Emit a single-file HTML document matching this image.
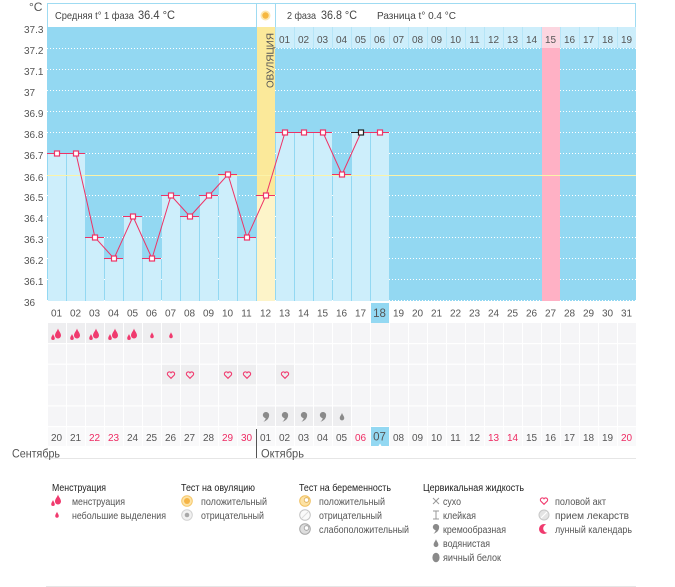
<!DOCTYPE html>
<html><head><meta charset="utf-8"><style>
html,body{margin:0;padding:0;background:#fff;}
svg{display:block;font-family:"Liberation Sans","DejaVu Sans",sans-serif;}
</style></head><body>
<svg width="675" height="587" viewBox="0 0 675 587" xmlns="http://www.w3.org/2000/svg">
<defs>
<pattern id="cells" x="47" y="0" width="19" height="10" patternUnits="userSpaceOnUse"><rect x="1" y="0" width="18" height="10" fill="#f5f5f7"/></pattern>
<pattern id="cells2" x="47" y="0" width="19" height="10" patternUnits="userSpaceOnUse"><rect x="1" y="0" width="18" height="10" fill="#f9f9fa"/></pattern>
<path id="drop" d="M0,-5.5 C0.6,-3 3,-1.2 3,1.5 A3,3 0 0 1 -3,1.5 C-3,-1.2 -0.6,-3 0,-5.5Z"/>
<path id="heart" d="M0,3.3 L-3.3,0 A1.7,1.7 0 0 1 0,-2.2 A1.7,1.7 0 0 1 3.3,0 Z"/>
<path id="comma" d="M-3.2,-1.6 A3.2,3.2 0 1 1 3.1,-0.6 C2.7,2.4 0.5,4.4 -2.6,5.2 C-0.9,3.8 -0.3,2.6 -0.4,1.6 A3.2,3.2 0 0 1 -3.2,-1.6Z"/>
</defs>

<!-- header -->
<rect x="47.5" y="3.5" width="588" height="24" fill="#fff" stroke="#9fdbf2"/>
<line x1="256.5" y1="3.5" x2="256.5" y2="27" stroke="#9fdbf2"/>
<line x1="275.5" y1="3.5" x2="275.5" y2="27" stroke="#9fdbf2"/>
<circle cx="265.5" cy="15.5" r="5" fill="#fde7b0"/>
<circle cx="265.5" cy="15.5" r="3.2" fill="#f6b740"/>
<text x="55" y="19" font-size="10.5" fill="#444" textLength="79" lengthAdjust="spacingAndGlyphs">Средняя t° 1 фаза</text>
<text x="138" y="19" font-size="12" fill="#444" textLength="37" lengthAdjust="spacingAndGlyphs">36.4 °C</text>
<text x="287" y="19" font-size="10.5" fill="#444" textLength="29" lengthAdjust="spacingAndGlyphs">2 фаза</text>
<text x="321" y="19" font-size="12" fill="#444" textLength="36" lengthAdjust="spacingAndGlyphs">36.8 °C</text>
<text x="377" y="19" font-size="10.5" fill="#444" textLength="79" lengthAdjust="spacingAndGlyphs">Разница t° 0.4 °C</text>

<!-- y axis -->
<g font-size="10" fill="#555">
<text x="29" y="11" font-size="12">°C</text>
<text x="24" y="33">37.3</text>
<text x="24" y="54">37.2</text>
<text x="24" y="75">37.1</text>
<text x="24" y="96">37</text>
<text x="24" y="117">36.9</text>
<text x="24" y="138">36.8</text>
<text x="24" y="159">36.7</text>
<text x="24" y="181">36.6</text>
<text x="24" y="201">36.5</text>
<text x="24" y="222">36.4</text>
<text x="24" y="243">36.3</text>
<text x="24" y="264">36.2</text>
<text x="24" y="285">36.1</text>
<text x="24" y="306">36</text>
</g>

<!-- chart background -->
<rect x="47" y="27" width="589" height="274" fill="#93d8f2"/>
<!-- phase 2 label row -->
<rect x="275" y="27" width="361" height="21" fill="#b6e5f7"/>
<g fill="#cdeefb">
<rect x="276" y="27" width="18" height="21"/><rect x="295" y="27" width="18" height="21"/><rect x="314" y="27" width="18" height="21"/><rect x="333" y="27" width="18" height="21"/><rect x="352" y="27" width="18" height="21"/><rect x="371" y="27" width="18" height="21"/><rect x="390" y="27" width="18" height="21"/><rect x="409" y="27" width="18" height="21"/><rect x="428" y="27" width="18" height="21"/><rect x="447" y="27" width="18" height="21"/><rect x="466" y="27" width="18" height="21"/><rect x="485" y="27" width="18" height="21"/><rect x="504" y="27" width="18" height="21"/><rect x="523" y="27" width="18" height="21"/><rect x="561" y="27" width="18" height="21"/><rect x="580" y="27" width="18" height="21"/><rect x="599" y="27" width="18" height="21"/><rect x="618" y="27" width="18" height="21"/>
</g>
<rect x="542" y="27" width="18" height="21" fill="#fcd6e0"/>

<!-- dotted grid -->
<g stroke="#ffffff" stroke-width="1" stroke-dasharray="1 2">
<line x1="47" y1="48.5" x2="636" y2="48.5"/>
<line x1="47" y1="69.5" x2="636" y2="69.5"/>
<line x1="47" y1="90.5" x2="636" y2="90.5"/>
<line x1="47" y1="111.5" x2="636" y2="111.5"/>
<line x1="47" y1="132.5" x2="636" y2="132.5"/>
<line x1="47" y1="153.5" x2="636" y2="153.5"/>
<line x1="47" y1="195.5" x2="636" y2="195.5"/>
<line x1="47" y1="216.5" x2="636" y2="216.5"/>
<line x1="47" y1="237.5" x2="636" y2="237.5"/>
<line x1="47" y1="258.5" x2="636" y2="258.5"/>
<line x1="47" y1="279.5" x2="636" y2="279.5"/>
<line x1="47" y1="300.5" x2="636" y2="300.5"/>
</g>

<!-- pink column 27 -->
<rect x="542" y="48" width="18" height="253" fill="#ffb1c5"/>

<!-- ovulation column -->
<rect x="257" y="27" width="18" height="168" fill="#fbe99a"/>
<rect x="257" y="195" width="18" height="106" fill="#fdf4c9"/>
<text transform="translate(273.5,88) rotate(-90)" font-size="10.5" fill="#555" textLength="55" lengthAdjust="spacingAndGlyphs">ОВУЛЯЦИЯ</text>

<!-- bars -->
<g fill="#cdeefb">
<rect x="48" y="153" width="18" height="148"/>
<rect x="67" y="153" width="18" height="148"/>
<rect x="86" y="237" width="18" height="64"/>
<rect x="105" y="258" width="18" height="43"/>
<rect x="124" y="216" width="18" height="85"/>
<rect x="143" y="258" width="18" height="43"/>
<rect x="162" y="195" width="18" height="106"/>
<rect x="181" y="216" width="18" height="85"/>
<rect x="200" y="195" width="18" height="106"/>
<rect x="219" y="174" width="18" height="127"/>
<rect x="238" y="237" width="18" height="64"/>
<rect x="276" y="132" width="18" height="169"/>
<rect x="295" y="132" width="18" height="169"/>
<rect x="314" y="132" width="18" height="169"/>
<rect x="333" y="174" width="18" height="127"/>
<rect x="352" y="132" width="18" height="169"/>
<rect x="371" y="132" width="18" height="169"/>
</g>

<!-- 36.6 line -->
<line x1="47" y1="175.5" x2="636" y2="175.5" stroke="#fbf3a8" stroke-width="1"/>

<!-- bar tops -->
<g stroke="#ee3366" stroke-width="1">
<line x1="47" y1="153.5" x2="85" y2="153.5"/>
<line x1="85" y1="237.5" x2="104" y2="237.5"/>
<line x1="104" y1="258.5" x2="123" y2="258.5"/>
<line x1="123" y1="216.5" x2="142" y2="216.5"/>
<line x1="142" y1="258.5" x2="161" y2="258.5"/>
<line x1="161" y1="195.5" x2="180" y2="195.5"/>
<line x1="180" y1="216.5" x2="199" y2="216.5"/>
<line x1="199" y1="195.5" x2="218" y2="195.5"/>
<line x1="218" y1="174.5" x2="237" y2="174.5"/>
<line x1="237" y1="237.5" x2="256" y2="237.5"/>
<line x1="256" y1="195.5" x2="275" y2="195.5"/>
<line x1="275" y1="132.5" x2="332" y2="132.5"/>
<line x1="332" y1="174.5" x2="351" y2="174.5"/>
<line x1="361" y1="132.5" x2="389" y2="132.5"/>
</g>
<line x1="351" y1="132.5" x2="361" y2="132.5" stroke="#222" stroke-width="1"/>

<!-- data line -->
<polyline fill="none" stroke="#ee3366" stroke-width="1" points="57,153.5 76,153.5 95,237.5 114,258.5 133,216.5 152,258.5 171,195.5 190,216.5 209,195.5 228,174.5 247,237.5 266,195.5 285,132.5 304,132.5 323,132.5 342,174.5 361,132.5 380,132.5"/>
<g fill="#fff" stroke="#ee3366" stroke-width="1.2">
<rect x="54.5" y="151" width="5" height="5"/>
<rect x="73.5" y="151" width="5" height="5"/>
<rect x="92.5" y="235" width="5" height="5"/>
<rect x="111.5" y="256" width="5" height="5"/>
<rect x="130.5" y="214" width="5" height="5"/>
<rect x="149.5" y="256" width="5" height="5"/>
<rect x="168.5" y="193" width="5" height="5"/>
<rect x="187.5" y="214" width="5" height="5"/>
<rect x="206.5" y="193" width="5" height="5"/>
<rect x="225.5" y="172" width="5" height="5"/>
<rect x="244.5" y="235" width="5" height="5"/>
<rect x="263.5" y="193" width="5" height="5"/>
<rect x="282.5" y="130" width="5" height="5"/>
<rect x="301.5" y="130" width="5" height="5"/>
<rect x="320.5" y="130" width="5" height="5"/>
<rect x="339.5" y="172" width="5" height="5"/>
<rect x="377.5" y="130" width="5" height="5"/>
</g>
<rect x="358.5" y="130" width="5" height="5" fill="#fff" stroke="#222" stroke-width="1.2"/>

<!-- phase 2 top labels -->
<g font-size="10" fill="#555" text-anchor="middle">
<text x="284.5" y="43">01</text><text x="303.5" y="43">02</text><text x="322.5" y="43">03</text><text x="341.5" y="43">04</text><text x="360.5" y="43">05</text><text x="379.5" y="43">06</text><text x="398.5" y="43">07</text><text x="417.5" y="43">08</text><text x="436.5" y="43">09</text><text x="455.5" y="43">10</text><text x="474.5" y="43">11</text><text x="493.5" y="43">12</text><text x="512.5" y="43">13</text><text x="531.5" y="43">14</text><text x="550.5" y="43">15</text><text x="569.5" y="43">16</text><text x="588.5" y="43">17</text><text x="607.5" y="43">18</text><text x="626.5" y="43">19</text>
</g>

<!-- x axis labels -->
<rect x="371" y="303" width="18" height="20" fill="#93d8f2"/>
<g font-size="10" fill="#555" text-anchor="middle">
<text x="56.5" y="316.5">01</text><text x="75.5" y="316.5">02</text><text x="94.5" y="316.5">03</text><text x="113.5" y="316.5">04</text><text x="132.5" y="316.5">05</text><text x="151.5" y="316.5">06</text><text x="170.5" y="316.5">07</text><text x="189.5" y="316.5">08</text><text x="208.5" y="316.5">09</text><text x="227.5" y="316.5">10</text><text x="246.5" y="316.5">11</text><text x="265.5" y="316.5">12</text><text x="284.5" y="316.5">13</text><text x="303.5" y="316.5">14</text><text x="322.5" y="316.5">15</text><text x="341.5" y="316.5">16</text><text x="360.5" y="316.5">17</text><text x="379.5" y="317" font-size="11.5">18</text><text x="398.5" y="316.5">19</text><text x="417.5" y="316.5">20</text><text x="436.5" y="316.5">21</text><text x="455.5" y="316.5">22</text><text x="474.5" y="316.5">23</text><text x="493.5" y="316.5">24</text><text x="512.5" y="316.5">25</text><text x="531.5" y="316.5">26</text><text x="550.5" y="316.5">27</text><text x="569.5" y="316.5">28</text><text x="588.5" y="316.5">29</text><text x="607.5" y="316.5">30</text><text x="626.5" y="316.5">31</text>
</g>

<!-- rows grid -->
<rect x="47" y="323" width="589" height="104" fill="url(#cells)"/>
<rect x="47" y="427" width="589" height="19" fill="url(#cells2)"/>
<g fill="#fff">
<rect x="47" y="343" width="589" height="1.2"/>
<rect x="47" y="363.6" width="589" height="1.2"/>
<rect x="47" y="384.4" width="589" height="1.2"/>
<rect x="47" y="405.3" width="589" height="1.2"/>
<rect x="47" y="426" width="589" height="1.2"/>
</g>
<!-- marked cells -->
<g fill="#eeeef0">
<rect x="48" y="323" width="18" height="20"/><rect x="67" y="323" width="18" height="20"/><rect x="86" y="323" width="18" height="20"/><rect x="105" y="323" width="18" height="20"/><rect x="124" y="323" width="18" height="20"/><rect x="143" y="323" width="18" height="20"/><rect x="162" y="323" width="18" height="20"/>
<rect x="162" y="364.8" width="18" height="19.6"/><rect x="181" y="364.8" width="18" height="19.6"/><rect x="219" y="364.8" width="18" height="19.6"/><rect x="238" y="364.8" width="18" height="19.6"/><rect x="276" y="364.8" width="18" height="19.6"/>
<rect x="257" y="406.5" width="18" height="19.5"/><rect x="276" y="406.5" width="18" height="19.5"/><rect x="295" y="406.5" width="18" height="19.5"/><rect x="314" y="406.5" width="18" height="19.5"/><rect x="333" y="406.5" width="18" height="19.5"/>
</g>
<!-- menstruation drops -->
<g fill="#f03a6e">
<use href="#drop" transform="translate(58,334)"/><use href="#drop" transform="translate(53,337.3) scale(0.6)"/>
<use href="#drop" transform="translate(77,334)"/><use href="#drop" transform="translate(72,337.3) scale(0.6)"/>
<use href="#drop" transform="translate(96,334)"/><use href="#drop" transform="translate(91,337.3) scale(0.6)"/>
<use href="#drop" transform="translate(115,334)"/><use href="#drop" transform="translate(110,337.3) scale(0.6)"/>
<use href="#drop" transform="translate(134,334)"/><use href="#drop" transform="translate(129,337.3) scale(0.6)"/>
<use href="#drop" transform="translate(152,335.5) scale(0.6)"/>
<use href="#drop" transform="translate(171,335.5) scale(0.6)"/>
</g>
<!-- hearts -->
<g fill="none" stroke="#f03a6e" stroke-width="1.1">
<use href="#heart" transform="translate(171,375)"/>
<use href="#heart" transform="translate(190,375)"/>
<use href="#heart" transform="translate(228,375)"/>
<use href="#heart" transform="translate(247,375)"/>
<use href="#heart" transform="translate(285,375)"/>
</g>
<!-- cervical -->
<g fill="#8a8a8a">
<use href="#comma" transform="translate(266,416.5)"/>
<use href="#comma" transform="translate(285,416.5)"/>
<use href="#comma" transform="translate(304,416.5)"/>
<use href="#comma" transform="translate(323,416.5)"/>
<use href="#drop" transform="translate(342,417) scale(0.75)"/>
</g>

<!-- date row -->
<rect x="371" y="427" width="18" height="19" fill="#93d8f2"/>
<path d="M378.5,446 L380,443.5 L381.5,446Z" fill="#fff"/>
<g font-size="10" fill="#555" text-anchor="middle">
<text x="56.5" y="441">20</text><text x="75.5" y="441">21</text><text x="94.5" y="441" fill="#ee2a62">22</text><text x="113.5" y="441" fill="#ee2a62">23</text><text x="132.5" y="441">24</text><text x="151.5" y="441">25</text><text x="170.5" y="441">26</text><text x="189.5" y="441">27</text><text x="208.5" y="441">28</text><text x="227.5" y="441" fill="#ee2a62">29</text><text x="246.5" y="441" fill="#ee2a62">30</text><text x="265.5" y="441">01</text><text x="284.5" y="441">02</text><text x="303.5" y="441">03</text><text x="322.5" y="441">04</text><text x="341.5" y="441">05</text><text x="360.5" y="441" fill="#ee2a62">06</text><text x="379.5" y="440.5" font-size="11.5">07</text><text x="398.5" y="441">08</text><text x="417.5" y="441">09</text><text x="436.5" y="441">10</text><text x="455.5" y="441">11</text><text x="474.5" y="441">12</text><text x="493.5" y="441" fill="#ee2a62">13</text><text x="512.5" y="441" fill="#ee2a62">14</text><text x="531.5" y="441">15</text><text x="550.5" y="441">16</text><text x="569.5" y="441">17</text><text x="588.5" y="441">18</text><text x="607.5" y="441">19</text><text x="626.5" y="441" fill="#ee2a62">20</text>
</g>
<line x1="45" y1="458.5" x2="636" y2="458.5" stroke="#e6e6e6"/>
<line x1="256.5" y1="429" x2="256.5" y2="458" stroke="#555"/>
<text x="12" y="457.5" font-size="11.5" fill="#555" textLength="48" lengthAdjust="spacingAndGlyphs">Сентябрь</text>
<text x="261" y="457.5" font-size="11.5" fill="#555" textLength="43" lengthAdjust="spacingAndGlyphs">Октябрь</text>

<!-- legend -->
<g font-size="10" fill="#222">
<text x="52" y="491" textLength="54" lengthAdjust="spacingAndGlyphs">Менструация</text>
<text x="181" y="491" textLength="74" lengthAdjust="spacingAndGlyphs">Тест на овуляцию</text>
<text x="299" y="491" textLength="92" lengthAdjust="spacingAndGlyphs">Тест на беременность</text>
<text x="423" y="491" textLength="101" lengthAdjust="spacingAndGlyphs">Цервикальная жидкость</text>
</g>
<g font-size="10" fill="#555" lengthAdjust="spacingAndGlyphs">
<text x="72" y="505" textLength="53" lengthAdjust="spacingAndGlyphs">менструация</text>
<text x="72" y="519" textLength="94" lengthAdjust="spacingAndGlyphs">небольшие выделения</text>
<text x="201" y="505" textLength="66" lengthAdjust="spacingAndGlyphs">положительный</text>
<text x="201" y="519" textLength="63" lengthAdjust="spacingAndGlyphs">отрицательный</text>
<text x="319" y="505" textLength="66" lengthAdjust="spacingAndGlyphs">положительный</text>
<text x="319" y="519" textLength="63" lengthAdjust="spacingAndGlyphs">отрицательный</text>
<text x="319" y="533" textLength="90" lengthAdjust="spacingAndGlyphs">слабоположительный</text>
<text x="443" y="505" textLength="18" lengthAdjust="spacingAndGlyphs">сухо</text>
<text x="443" y="519" textLength="33" lengthAdjust="spacingAndGlyphs">клейкая</text>
<text x="443" y="533" textLength="63" lengthAdjust="spacingAndGlyphs">кремообразная</text>
<text x="443" y="547" textLength="47" lengthAdjust="spacingAndGlyphs">водянистая</text>
<text x="443" y="561" textLength="58" lengthAdjust="spacingAndGlyphs">яичный белок</text>
<text x="555" y="505" textLength="51" lengthAdjust="spacingAndGlyphs">половой акт</text>
<text x="555" y="519" textLength="74" lengthAdjust="spacingAndGlyphs">прием лекарств</text>
<text x="555" y="533" textLength="77" lengthAdjust="spacingAndGlyphs">лунный календарь</text>
</g>
<!-- legend icons -->
<g fill="#f03a6e">
<use href="#drop" transform="translate(58,500)"/><use href="#drop" transform="translate(53,503.3) scale(0.6)"/>
<use href="#drop" transform="translate(57,515) scale(0.6)"/>
</g>
<circle cx="187" cy="501" r="5.3" fill="#fde4a8" stroke="#f6c86c"/>
<circle cx="187" cy="501" r="3" fill="#f5b446"/>
<circle cx="187" cy="515" r="5.3" fill="#f1f1f1" stroke="#d2d2d2"/>
<circle cx="187" cy="515" r="2.3" fill="#a8a8a8"/>
<circle cx="305" cy="501" r="5.3" fill="#fde2a4" stroke="#f0c060"/>
<circle cx="306.5" cy="500" r="2.3" fill="#fff" stroke="#d9a850" stroke-width="0.8"/>
<circle cx="305" cy="515" r="5.3" fill="#fafafa" stroke="#c4c4c4"/>
<line x1="302" y1="518" x2="308" y2="512" stroke="#dcdcdc"/>
<circle cx="305" cy="529" r="5.3" fill="#dedede" stroke="#a8a8a8"/>
<circle cx="306.5" cy="528" r="2.3" fill="#fff" stroke="#999" stroke-width="0.8"/>
<g stroke="#999" stroke-width="1">
<line x1="433" y1="498" x2="439" y2="504"/><line x1="439" y1="498" x2="433" y2="504"/>
<line x1="436" y1="511" x2="436" y2="519"/><line x1="433" y1="511" x2="439" y2="511"/><line x1="433" y1="519" x2="439" y2="519"/>
</g>
<g fill="#8a8a8a">
<use href="#comma" transform="translate(436,528.5)"/>
<use href="#drop" transform="translate(436,543.5) scale(0.8)"/>
<ellipse cx="436" cy="557.5" rx="3.6" ry="4.8"/>
</g>
<use href="#heart" transform="translate(544,501)" fill="none" stroke="#f03a6e" stroke-width="1.1"/>
<circle cx="544" cy="515" r="5" fill="#e4e4e4" stroke="#c8c8c8"/>
<line x1="541" y1="518" x2="547" y2="512" stroke="#fff" stroke-width="1.2"/>
<circle cx="544" cy="529" r="5" fill="#f03a6e"/>
<circle cx="547.5" cy="528.5" r="4.3" fill="#fff"/>

<line x1="46" y1="586.5" x2="636" y2="586.5" stroke="#e6e6e6"/>
</svg>
</body></html>
